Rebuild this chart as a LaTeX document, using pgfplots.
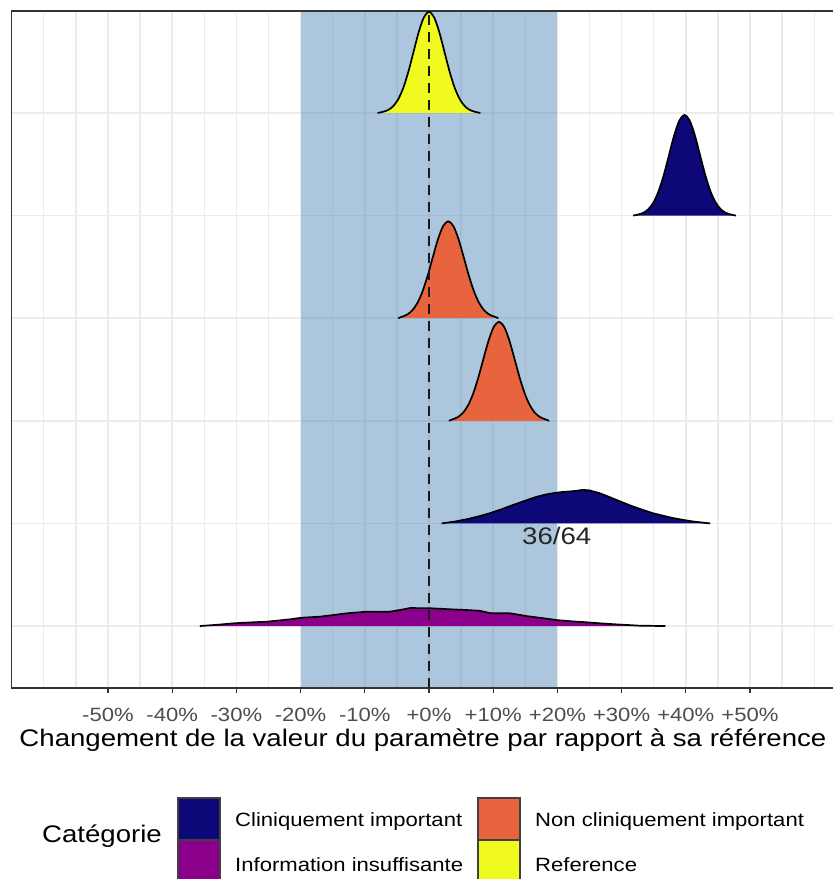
\documentclass[border=0pt]{standalone}
\usepackage{fontspec}
\setmainfont{Liberation Sans}[FakeStretch=1.15]
\usepackage{pgfplots}
\pgfplotsset{compat=1.18}

\definecolor{c-navy}{HTML}{0E0778}
\definecolor{c-purple}{HTML}{8B008B}
\definecolor{c-orange}{HTML}{E8643F}
\definecolor{c-yellow}{HTML}{F0FA1E}
\definecolor{c-band}{HTML}{4682B4}
\definecolor{c-grid}{HTML}{EBEBEB}
\definecolor{c-border}{HTML}{333333}
\definecolor{c-tick}{HTML}{4D4D4D}

\newcommand{\bigfont}{\fontsize{24}{28}\selectfont}
\newcommand{\smallfont}{\fontsize{19.2}{23}\selectfont}

% density ridges: x = change (%), y = level + scaled density
\pgfplotstableread{
x y
-8.0 6.0000
-7.2 6.0109
-6.4 6.0282
-5.6 6.0647
-4.8 6.1333
-4.0 6.2457
-3.2 6.4049
-2.4 6.5974
-1.6 6.7887
-0.8 6.9317
0.0 6.9850
0.8 6.9317
1.6 6.7887
2.4 6.5974
3.2 6.4049
4.0 6.2457
4.8 6.1333
5.6 6.0647
6.4 6.0282
7.2 6.0109
8.0 6.0000
}\ridgeref
\pgfplotstableread{
x y
31.8 5.0000
32.6 5.0109
33.4 5.0280
34.2 5.0644
35.0 5.1326
35.8 5.2444
36.6 5.4029
37.4 5.5944
38.2 5.7847
39.0 5.9270
39.8 5.9800
40.6 5.9270
41.4 5.7847
42.2 5.5944
43.0 5.4029
43.8 5.2444
44.6 5.1326
45.4 5.0644
46.2 5.0280
47.0 5.0109
47.8 5.0000
}\ridgeclinA
\pgfplotstableread{
x y
-4.8 4.0000
-4.2 4.0149
-3.4 4.0357
-2.6 4.0769
-1.8 4.1496
-1.0 4.2627
-0.2 4.4166
0.6 4.5961
1.4 4.7700
2.2 4.8978
3.0 4.9450
3.8 4.8978
4.6 4.7700
5.4 4.5961
6.2 4.4166
7.0 4.2627
7.8 4.1496
8.6 4.0769
9.4 4.0357
10.2 4.0149
10.8 4.0000
}\ridgenonA
\pgfplotstableread{
x y
3.1 3.0000
3.7 3.0152
4.5 3.0365
5.3 3.0785
6.1 3.1528
6.9 3.2683
7.7 3.4254
8.5 3.6087
9.3 3.7863
10.1 3.9168
10.9 3.9650
11.7 3.9168
12.5 3.7863
13.3 3.6087
14.1 3.4254
14.9 3.2683
15.7 3.1528
16.5 3.0785
17.3 3.0365
18.1 3.0152
18.7 3.0000
}\ridgenonB
\pgfplotstableread{
x y
1.97 2.000
4.0 2.018
5.9 2.041
7.7 2.068
9.5 2.100
11.3 2.138
13.1 2.180
15.0 2.222
16.8 2.260
18.4 2.285
19.9 2.300
21.0 2.308
22.0 2.312
23.0 2.318
23.9 2.327
25.0 2.322
26.6 2.294
27.9 2.262
29.2 2.229
30.5 2.196
31.8 2.164
33.4 2.130
34.9 2.099
36.5 2.074
38.1 2.051
39.7 2.033
41.2 2.018
42.5 2.009
43.8 2.000
}\ridgeclinB
\pgfplotstableread{
x y
-35.7 1.000
-33.0 1.012
-30.5 1.026
-27.9 1.035
-25.3 1.042
-21.7 1.065
-19.8 1.081
-17.0 1.091
-14.9 1.107
-12.8 1.124
-9.7 1.140
-7.8 1.138
-6.1 1.140
-4.5 1.156
-3.0 1.175
0.0 1.174
3.3 1.163
5.5 1.157
7.9 1.149
9.5 1.126
12.6 1.124
15.2 1.097
17.5 1.078
19.9 1.058
22.2 1.046
24.6 1.036
26.9 1.025
29.2 1.016
32.9 1.003
36.8 1.000
}\ridgeinfo

\begin{document}
\begin{tikzpicture}[x=1pt,y=1pt]
\useasboundingbox (0,0) rectangle (833,879);
\clip (0,0) rectangle (833,879);
\begin{axis}[
  at={(11.7pt,191pt)}, anchor=south west,
  scale only axis, width=834.6pt, height=677pt,
  xmin=-65, xmax=65, ymin=0.396, ymax=6.994,
  axis line style={draw=c-border, line width=1.1pt},
  xtick={-50,-40,...,50},
  xticklabels={-50\%,-40\%,-30\%,-20\%,-10\%,+0\%,+10\%,+20\%,+30\%,+40\%,+50\%},
  minor xtick={-60,-55,...,60},
  ytick={1,2,3,4,5,6}, yticklabels={},
  xmajorgrids, xminorgrids, ymajorgrids,
  major grid style={draw=c-grid, line width=1.5pt},
  minor grid style={draw=c-grid, line width=1.3pt},
  tick align=outside, xtick pos=lower,
  major tick length=5pt, minor tick length=0pt,
  major x tick style={draw=c-border, line width=1.1pt},
  ytick style={draw=none},
  xticklabel style={font=\smallfont, text=c-tick, anchor=base, yshift=-28pt, inner sep=0pt},
  xlabel={Changement de la valeur du paramètre par rapport à sa référence},
  xlabel style={at={(axis description cs:0.4928,0)}, anchor=base, yshift=-59pt, font=\bigfont, inner sep=0pt},
]
% clinically neutral band
\addplot[draw=none, fill=c-band, fill opacity=0.45, forget plot]
  coordinates {(-20,0.402) (-20,6.988) (20,6.988) (20,0.402)};

% ridges, drawn from the top row down
\addplot[fill=c-yellow, draw=black, line width=1.7pt, smooth, tension=0.5] table[x=x,y=y] {\ridgeref};
\addplot[fill=c-navy, draw=black, line width=1.7pt, smooth, tension=0.5] table[x=x,y=y] {\ridgeclinA};
\addplot[fill=c-orange, draw=black, line width=1.7pt, smooth, tension=0.5] table[x=x,y=y] {\ridgenonA};
\addplot[fill=c-orange, draw=black, line width=1.7pt, smooth, tension=0.5] table[x=x,y=y] {\ridgenonB};
\addplot[fill=c-navy, draw=black, line width=1.7pt] table[x=x,y=y] {\ridgeclinB};
\addplot[fill=c-purple, draw=black, line width=1.7pt] table[x=x,y=y] {\ridgeinfo};

% reference line at 0 %
\addplot[black!90, line width=1.6pt, dash pattern=on 10pt off 7pt] coordinates {(0,0.396) (0,6.994)};

\node[anchor=base, font=\bigfont, text=black!85, inner sep=0pt] at (axis cs:19.9,1.79) {36/64};
\end{axis}

% legend
\node[anchor=base west, font=\bigfont, inner sep=0pt] at (42,36) {Catégorie};
\begin{scope}[line width=1.8pt]
\filldraw[fill=c-navy, draw=black!75] (178,39) rectangle (220,81);
\filldraw[fill=c-purple, draw=black!75] (178,-3) rectangle (220,39);
\filldraw[fill=c-orange, draw=black!75] (478,39) rectangle (520,81);
\filldraw[fill=c-yellow, draw=black!75] (478,-3) rectangle (520,39);
\end{scope}
\node[anchor=base west, font=\smallfont, inner sep=0pt] at (235,52) {Cliniquement important};
\node[anchor=base west, font=\smallfont, inner sep=0pt] at (235,7) {Information insuffisante};
\node[anchor=base west, font=\smallfont, inner sep=0pt] at (535,52) {Non cliniquement important};
\node[anchor=base west, font=\smallfont, inner sep=0pt] at (535,7) {Reference};
\end{tikzpicture}
\end{document}
